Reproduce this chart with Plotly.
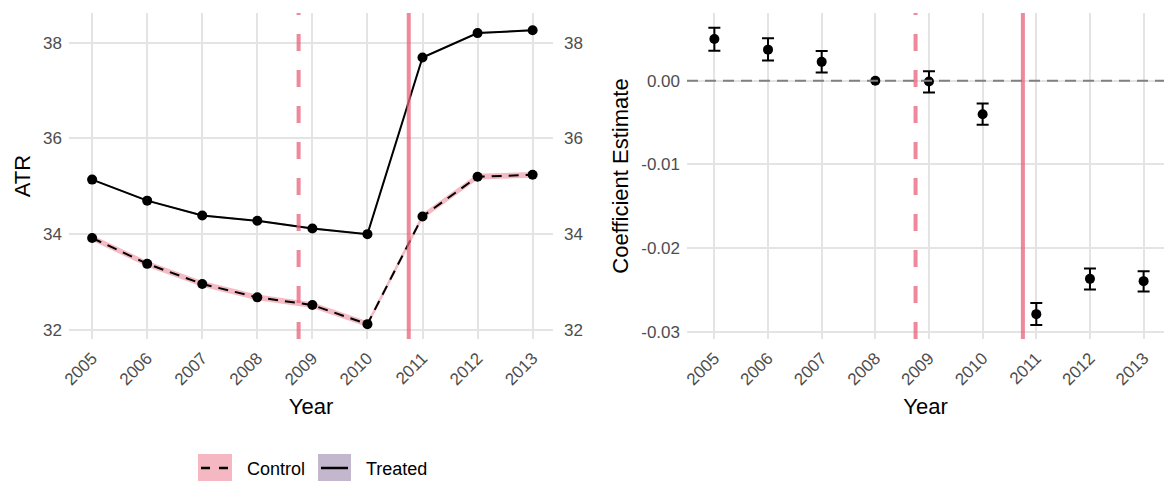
import plotly.graph_objects as go

# ---------------- data ----------------
years = [2005, 2006, 2007, 2008, 2009, 2010, 2011, 2012, 2013]

treated_atr = [35.14, 34.70, 34.39, 34.28, 34.12, 34.00, 37.69, 38.20, 38.26]
treated_lo = [35.12, 34.68, 34.37, 34.26, 34.10, 33.98, 37.67, 38.18, 38.24]
treated_hi = [35.16, 34.72, 34.41, 34.30, 34.14, 34.02, 37.71, 38.22, 38.28]

control_atr = [33.92, 33.38, 32.96, 32.68, 32.52, 32.12, 34.37, 35.20, 35.24]
control_lo = [33.86, 33.32, 32.90, 32.62, 32.46, 32.06, 34.31, 35.14, 35.18]
control_hi = [33.98, 33.44, 33.02, 32.74, 32.58, 32.18, 34.43, 35.26, 35.30]

coef_est = [0.00500, 0.00373, 0.00227, 0.0, -0.00008, -0.00399, -0.02790, -0.02368, -0.02395]
coef_hi = [0.00636, 0.00508, 0.00358, 0.0, 0.00115, -0.00270, -0.02658, -0.02244, -0.02276]
coef_lo = [0.00361, 0.00242, 0.00099, 0.0, -0.00140, -0.00525, -0.02920, -0.02494, -0.02518]
coef_has_ci = [True, True, True, False, True, True, True, True, True]

announce_year = 2008.75
reform_year = 2010.75

atr_ticks = [32, 34, 36, 38]
coef_ticks = [0.0, -0.01, -0.02, -0.03]
coef_ticktext = ["0.00", "-0.01", "-0.02", "-0.03"]

legend_labels = ["Control", "Treated"]

# ---------------- style ----------------
W, H = 1164, 481
FONT = "Liberation Sans, Arial, sans-serif"
TICK_COL = "#4D4D4D"
GRID = "#E4E4E4"
PINK_FILL = "rgba(240,150,165,0.65)"
PURPLE_FILL = "rgba(150,125,165,0.6)"
VLINE = "rgba(232,96,120,0.75)"
TICK_FS = 17
TITLE_FS = 22
ATR_RANGE = [31.81, 38.62]

def px_x(p):
    return p / W

def px_y(p):
    return 1 - p / H

fig = go.Figure()

# ---- left panel: ribbons (base y axis) ----
fig.add_trace(go.Scatter(x=years, y=control_lo, mode="lines", line=dict(width=0),
                         showlegend=False, hoverinfo="skip", xaxis="x", yaxis="y"))
fig.add_trace(go.Scatter(x=years, y=control_hi, mode="lines", line=dict(width=0),
                         fill="tonexty", fillcolor=PINK_FILL, showlegend=False,
                         hoverinfo="skip", xaxis="x", yaxis="y"))
fig.add_trace(go.Scatter(x=years, y=treated_lo, mode="lines", line=dict(width=0),
                         showlegend=False, hoverinfo="skip", xaxis="x", yaxis="y"))
fig.add_trace(go.Scatter(x=years, y=treated_hi, mode="lines", line=dict(width=0),
                         fill="tonexty", fillcolor=PURPLE_FILL, showlegend=False,
                         hoverinfo="skip", xaxis="x", yaxis="y"))

# ---- left panel: lines (secondary right axis, same scale) ----
fig.add_trace(go.Scatter(x=years, y=control_atr, mode="lines+markers", name=legend_labels[0],
                         line=dict(color="black", width=2, dash="10px,7px"),
                         marker=dict(color="black", size=10), showlegend=False,
                         xaxis="x", yaxis="y3"))
fig.add_trace(go.Scatter(x=years, y=treated_atr, mode="lines+markers", name=legend_labels[1],
                         line=dict(color="black", width=2),
                         marker=dict(color="black", size=10), showlegend=False,
                         xaxis="x", yaxis="y3"))

# ---- right panel: coefficients ----
err_plus = [h - e for h, e in zip(coef_hi, coef_est)]
err_minus = [e - l for e, l in zip(coef_est, coef_lo)]
ci_years = [y for y, c in zip(years, coef_has_ci) if c]
ci_est = [e for e, c in zip(coef_est, coef_has_ci) if c]
ci_plus = [p for p, c in zip(err_plus, coef_has_ci) if c]
ci_minus = [m for m, c in zip(err_minus, coef_has_ci) if c]
fig.add_trace(go.Scatter(x=ci_years, y=ci_est, mode="markers",
                         marker=dict(color="rgba(0,0,0,0)", size=10),
                         error_y=dict(type="data", symmetric=False, array=ci_plus,
                                      arrayminus=ci_minus, color="black",
                                      thickness=2, width=6),
                         showlegend=False, xaxis="x2", yaxis="y2"))
fig.add_trace(go.Scatter(x=years, y=coef_est, mode="markers",
                         marker=dict(color="black", size=10),
                         showlegend=False, xaxis="x2", yaxis="y2"))

# ---------------- axes ----------------
left_dom = [px_x(69), px_x(553)]
right_dom = [px_x(687), 1.0]
y_dom = [px_y(339), px_y(13)]

xcommon = dict(tickmode="array", tickvals=years, ticktext=[str(y) for y in years],
               tickangle=-45, showgrid=True, gridcolor=GRID, gridwidth=2,
               zeroline=False, showline=False, ticks="", automargin=False,
               tickfont=dict(family=FONT, size=TICK_FS, color=TICK_COL),
               title=dict(text="Year", font=dict(family=FONT, size=TITLE_FS, color="black"), standoff=10),
               ticklabelstandoff=5)

fig.update_layout(
    xaxis=dict(domain=left_dom, range=[2004.58, 2013.37], anchor="y", **xcommon),
    yaxis=dict(domain=y_dom, range=ATR_RANGE, anchor="x", tickvals=atr_ticks,
               showgrid=True, gridcolor=GRID, gridwidth=2, zeroline=False, ticks="",
               automargin=False,
               tickfont=dict(family=FONT, size=TICK_FS, color=TICK_COL), ticklabelstandoff=6,
               title=dict(text="ATR", font=dict(family=FONT, size=TITLE_FS, color="black"), standoff=6)),
    yaxis3=dict(domain=y_dom, range=ATR_RANGE, anchor="x", overlaying="y", side="right",
                tickvals=atr_ticks, showgrid=False, zeroline=False, ticks="", automargin=False,
                tickfont=dict(family=FONT, size=TICK_FS, color=TICK_COL), ticklabelstandoff=10),
    xaxis2=dict(domain=right_dom, range=[2004.49, 2013.38], anchor="y2", **xcommon),
    yaxis2=dict(domain=y_dom, range=[-0.03087, 0.00811], anchor="x2",
                tickmode="array", tickvals=coef_ticks, ticktext=coef_ticktext,
                showgrid=True, gridcolor=GRID, gridwidth=2, zeroline=False, ticks="",
                automargin=False,
                tickfont=dict(family=FONT, size=TICK_FS, color=TICK_COL), ticklabelstandoff=6,
                title=dict(text="Coefficient Estimate", font=dict(family=FONT, size=TITLE_FS, color="black"), standoff=6)),
    width=W, height=H,
    margin=dict(l=0, r=0, t=0, b=0),
    paper_bgcolor="white", plot_bgcolor="white",
    showlegend=False,
    font=dict(family=FONT),
)

# reference lines
for xr, yr in [("x", "y"), ("x2", "y2")]:
    fig.add_shape(type="line", xref=xr, yref=yr + " domain", x0=announce_year, x1=announce_year,
                  y0=0, y1=1, line=dict(color=VLINE, width=4, dash="17px,19px"), layer="above")
    fig.add_shape(type="line", xref=xr, yref=yr + " domain", x0=reform_year, x1=reform_year,
                  y0=0, y1=1, line=dict(color=VLINE, width=4), layer="above")
fig.add_shape(type="line", xref="x2 domain", yref="y2", x0=0, x1=1, y0=0, y1=0,
              line=dict(color="#808080", width=2, dash="11px,7px"), layer="above")

# manual legend (ggplot style keys)
keys = [
    (198, 232, "rgb(245,183,193)", "9px,9px", legend_labels[0], 245),
    (318, 351, "rgb(195,183,205)", "solid", legend_labels[1], 364),
]
for x0, x1, col, dash, lab, tx in keys:
    fig.add_shape(type="rect", xref="paper", yref="paper",
                  x0=px_x(x0), x1=px_x(x1), y0=px_y(481), y1=px_y(454),
                  fillcolor=col, line=dict(width=0))
    fig.add_shape(type="line", xref="paper", yref="paper",
                  x0=px_x(x0 + 3), x1=px_x(x1 - 3), y0=px_y(468), y1=px_y(468),
                  line=dict(color="black", width=2.5, dash=dash))
    fig.add_annotation(text=lab, xref="paper", yref="paper", x=px_x(tx), y=px_y(469),
                       xanchor="left", yanchor="middle", showarrow=False,
                       font=dict(family=FONT, size=18, color="black"))

fig.write_html("out.html", config={"displayModeBar": False},
               post_script="document.body.style.margin='0';document.body.style.overflow='hidden';")
